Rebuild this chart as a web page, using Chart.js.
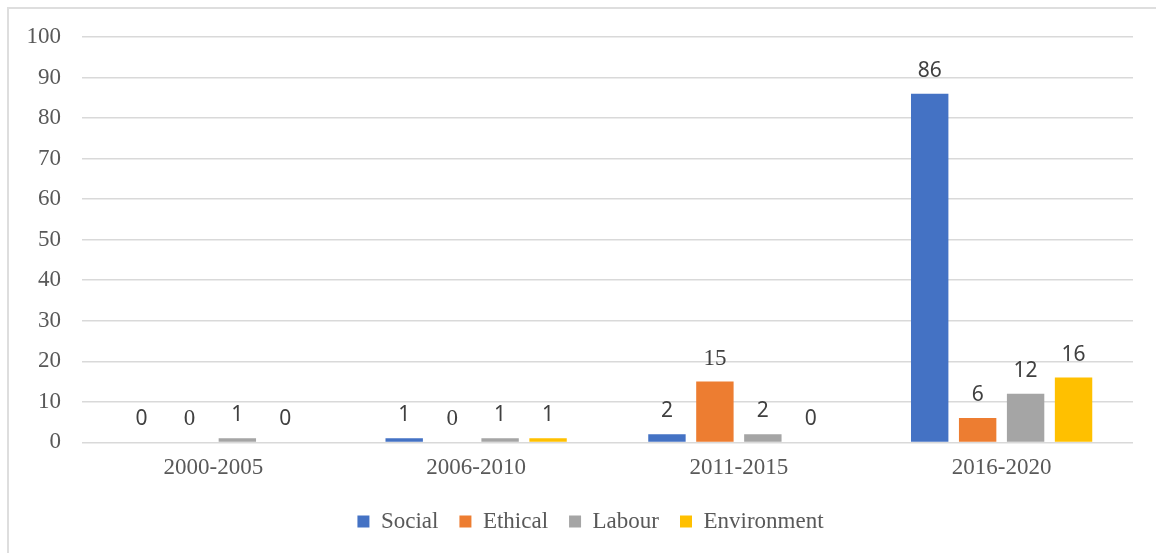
<!DOCTYPE html>
<html>
<head>
<meta charset="utf-8">
<script src="https://cdn.jsdelivr.net/npm/chart.js@4.4.1/dist/chart.umd.min.js"></script>
<style>
  html, body { margin: 0; padding: 0; background: #fff; }
  #frame { position: absolute; left: 7px; top: 7px; width: 1200px; height: 600px;
           border-top: 2px solid #dedede; border-left: 2px solid #dedede; }
  #wrap { position: absolute; left: 0; top: 0; width: 1156px; height: 553px; }
</style>
</head>
<body>
<div id="frame"></div>
<div id="wrap"><canvas id="c" width="1156" height="553"></canvas></div>
<script>
// Publication counts per period and theme
const periods = ['2000-2005', '2006-2010', '2011-2015', '2016-2020'];
const social = [0, 1, 2, 86];
const ethical = [0, 0, 15, 6];
const labour = [1, 1, 2, 12];
const environment = [0, 1, 0, 16];
const yTicks = [0, 10, 20, 30, 40, 50, 60, 70, 80, 90, 100];

const SERIF = '"Liberation Serif", "Times New Roman", serif';
const SANS = '"Noto Sans", "Open Sans", sans-serif';

// Value labels above each bar
const valueLabels = {
  id: 'valueLabels',
  afterDatasetsDraw(chart) {
    const ctx = chart.ctx;
    ctx.save();
    ctx.textAlign = 'center';
    ctx.textBaseline = 'alphabetic';
    ctx.fillStyle = '#404040';
    chart.data.datasets.forEach((ds, di) => {
      const meta = chart.getDatasetMeta(di);
      meta.data.forEach((bar, i) => {
        const serif = ds.serifLabels && ds.serifLabels[i];
        ctx.font = serif ? '23px ' + SERIF : '21px ' + SANS;
        ctx.fillText(String(ds.data[i]), bar.x, bar.y - 17);
      });
    });
    ctx.restore();
  }
};

// Nudge the legend row so it sits under the middle of the plot
const legendShift = {
  id: 'legendShift',
  afterLayout(chart) {
    const lg = chart.legend;
    if (lg) { lg.left += 24; lg.right += 24; }
  }
};

new Chart(document.getElementById('c'), {
  type: 'bar',
  data: {
    labels: periods,
    datasets: [
      { label: 'Social', data: social, backgroundColor: '#4472C4' },
      { label: 'Ethical', data: ethical, backgroundColor: '#ED7D31', serifLabels: [true, true, true, false] },
      { label: 'Labour', data: labour, backgroundColor: '#A5A5A5' },
      { label: 'Environment', data: environment, backgroundColor: '#FFC000' }
    ]
  },
  options: {
    responsive: false,
    animation: false,
    categoryPercentage: 0.73,
    barPercentage: 0.78,
    layout: { padding: { left: 0, right: 23, top: 37, bottom: 10 } },
    plugins: {
      legend: {
        position: 'bottom',
        labels: {
          boxWidth: 12, boxHeight: 12, padding: 21,
          color: '#595959',
          font: { family: SERIF, size: 23 }
        }
      },
      tooltip: { enabled: false }
    },
    scales: {
      x: {
        afterFit(scale) { scale.height -= 4; },
        grid: { display: false, drawTicks: false },
        border: { display: false },
        ticks: { color: '#595959', font: { family: SERIF, size: 23 }, padding: 11.5 }
      },
      y: {
        min: 0, max: 100,
        afterBuildTicks(scale) { scale.ticks = yTicks.map(v => ({ value: v })); },
        afterFit(scale) { scale.width = 82; },
        grid: { color: '#d9d9d9', lineWidth: 1.5, drawTicks: false },
        border: { display: false },
        ticks: { color: '#595959', font: { family: SERIF, size: 23 }, padding: 21 }
      }
    }
  },
  plugins: [valueLabels, legendShift]
});
</script>
</body>
</html>
